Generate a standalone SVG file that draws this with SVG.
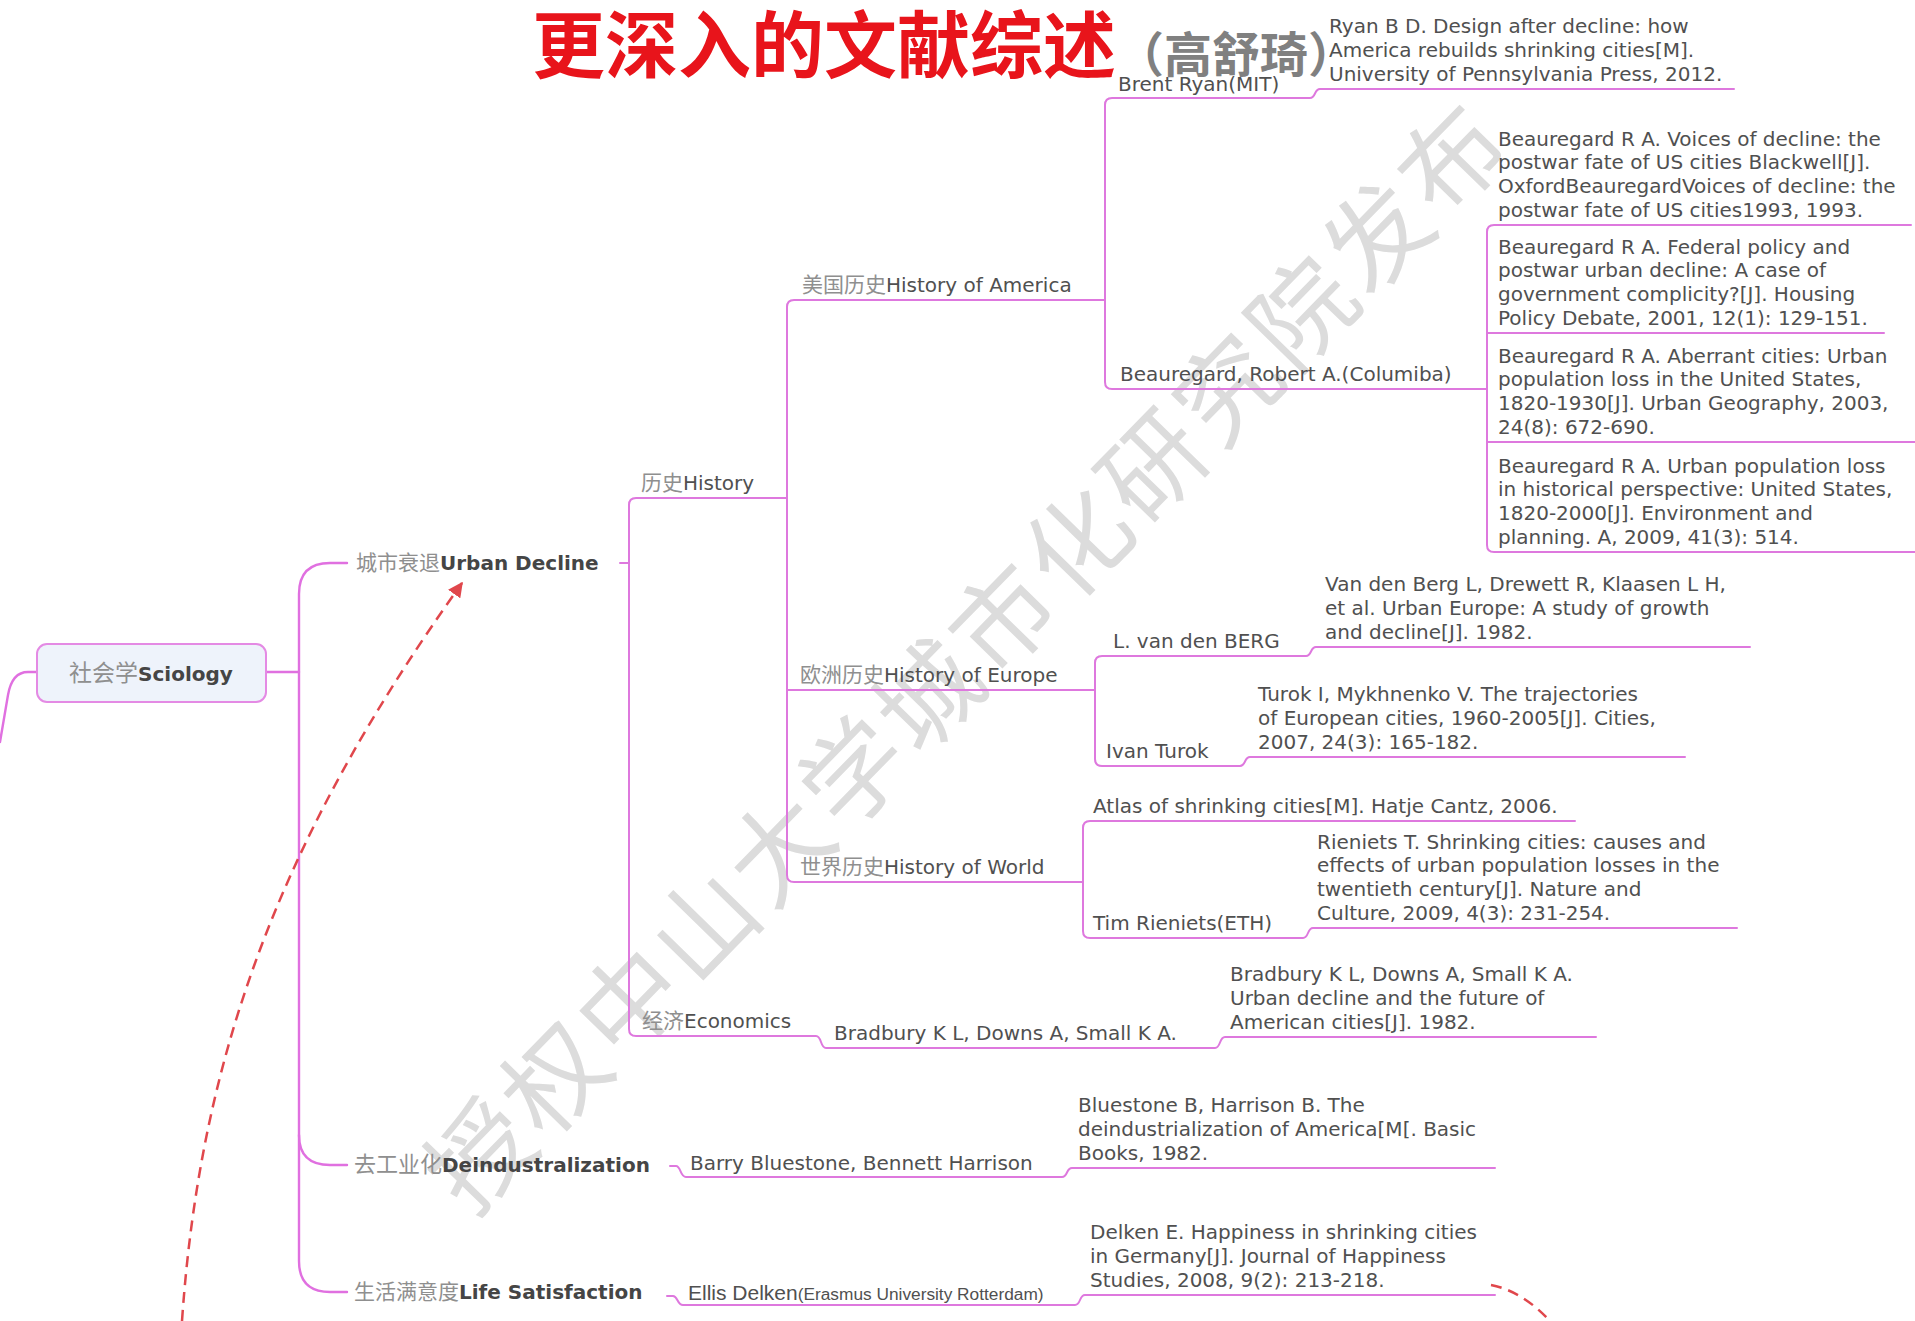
<svg xmlns="http://www.w3.org/2000/svg" width="1915" height="1321" viewBox="0 0 1915 1321">
<style>
  .t { font-family: "DejaVu Sans", "Noto Sans CJK SC", sans-serif; font-size: 20px; fill: #505050; }
  .cjk { font-family: "Noto Sans CJK SC", sans-serif; fill: #8f8f8f; font-weight: 400; }
  .topic { font-family: "DejaVu Sans", "Noto Sans CJK SC", sans-serif; font-size: 20px; font-weight: bold; fill: #454545; }
  .ln { fill: none; stroke: #de78de; stroke-width: 2; stroke-linecap: round; stroke-linejoin: round; }
  .trunk { fill: none; stroke: #e070e0; stroke-width: 2.4; stroke-linecap: round; }
  .red { fill: none; stroke: #e0474c; stroke-width: 2.5; stroke-dasharray: 11 7; }
</style>
<defs>
  <marker id="ah" viewBox="0 0 10 10" refX="9" refY="5" markerWidth="6" markerHeight="6" orient="auto" markerUnits="strokeWidth">
    <path d="M0,0 L10,5 L0,10 z" fill="#e0474c"/>
  </marker>
</defs>
<rect width="1915" height="1321" fill="#ffffff"/>

<g id="watermark">
  <text x="968" y="693" transform="rotate(-45.7 968 656)" text-anchor="middle" font-family="Noto Sans CJK SC, sans-serif" font-size="102" letter-spacing="5" fill="#dcdcdc">授权中山大学城市化研究院发布</text>
</g>

<g id="connectors">
  <path class="trunk" d="M37,672 H28 Q12,672 8,695 L0,742"/>
  <path class="trunk" d="M266,672 H299"/>
  <path class="trunk" d="M347,563 H330 Q299,563 299,594 V1261 Q299,1292 330,1292 H347"/>
  <path class="trunk" d="M299,1135 Q299,1165 330,1165 H347"/>
  <path class="ln" d="M620,563 H629"/>
  <path class="ln" d="M787,498 H636 Q629,498 629,505 V1029 Q629,1036 636,1036 H816 C822,1036 820,1048 826,1048 H1215 C1221,1048 1219,1037 1225,1037 H1596"/>
  <path class="ln" d="M1105,300 H794 Q787,300 787,307 V875 Q787,882 794,882 H1083"/>
  <path class="ln" d="M787,690 H1095"/>
  <path class="ln" d="M1487,389 H1112 Q1105,389 1105,382 V105 Q1105,98 1112,98 H1310 C1316,98 1314,89 1320,89 H1734"/>
  <path class="ln" d="M1911,225 H1494 Q1487,225 1487,232 V545 Q1487,552 1494,552 H1915"/>
  <path class="ln" d="M1487,333 H1884"/>
  <path class="ln" d="M1487,442 H1915"/>
  <path class="ln" d="M1750,647 H1316 C1310,647 1312,656 1306,656 H1102 Q1095,656 1095,663 V759 Q1095,766 1102,766 H1240 C1246,766 1244,757 1250,757 H1685"/>
  <path class="ln" d="M1575,821 H1090 Q1083,821 1083,828 V931 Q1083,938 1090,938 H1303 C1309,938 1307,928 1313,928 H1737"/>
  <path class="ln" d="M670,1166 H676 C681,1166 680,1177 686,1177 H1062 C1068,1177 1066,1168 1072,1168 H1495"/>
  <path class="ln" d="M667,1296 H673 C678,1296 677,1305 683,1305 H1075 C1081,1305 1079,1295 1085,1295 H1495"/>
  <path class="red" d="M182,1321 C200,1060 277,842 462,583" marker-end="url(#ah)"/>
  <path class="red" d="M1491,1285 Q1522,1291 1550,1321"/>
</g>

<g id="n-sociology">
  <rect x="37" y="644" width="229" height="58" rx="10" fill="#eef3fb" stroke="#e48ae4" stroke-width="2"/>
  <text x="151" y="681" text-anchor="middle" class="topic" font-size="22.5"><tspan class="cjk" font-size="23" fill="#7a7a7a">社会学</tspan>Sciology</text>
</g>

<g id="n-urban-decline">
  <text x="356" y="570" class="topic"><tspan class="cjk" font-size="21">城市衰退</tspan>Urban Decline</text>
</g>
<g id="n-deindustralization">
  <text x="354" y="1172" class="topic"><tspan class="cjk" font-size="22">去工业化</tspan>Deindustralization</text>
</g>
<g id="n-life-satisfaction">
  <text x="354" y="1299" class="topic"><tspan class="cjk" font-size="21">生活满意度</tspan>Life Satisfaction</text>
</g>

<g id="n-history"><text x="641" y="490" class="t"><tspan class="cjk" font-size="21">历史</tspan>History</text></g>
<g id="n-economics"><text x="642" y="1028" class="t"><tspan class="cjk" font-size="21">经济</tspan>Economics</text></g>
<g id="n-america"><text x="802" y="292" class="t"><tspan class="cjk" font-size="21">美国历史</tspan>History of America</text></g>
<g id="n-europe"><text x="800" y="682" class="t"><tspan class="cjk" font-size="21">欧洲历史</tspan>History of Europe</text></g>
<g id="n-world"><text x="800" y="874" class="t"><tspan class="cjk" font-size="21">世界历史</tspan>History of World</text></g>

<g id="n-brent-ryan"><text x="1118" y="91" class="t">Brent Ryan(MIT)</text></g>
<g id="n-ryan-ref"><text class="t"><tspan x="1329" y="33.4">Ryan B D. Design after decline: how</tspan><tspan x="1329" dy="23.8">America rebuilds shrinking cities[M].</tspan><tspan x="1329" dy="23.8">University of Pennsylvania Press, 2012.</tspan></text></g>

<g id="n-beauregard"><text x="1120" y="381" class="t">Beauregard, Robert A.(Columiba)</text></g>
<g id="n-beau-ref1"><text class="t"><tspan x="1498" y="145.6">Beauregard R A. Voices of decline: the</tspan><tspan x="1498" dy="23.8">postwar fate of US cities Blackwell[J].</tspan><tspan x="1498" dy="23.8">OxfordBeauregardVoices of decline: the</tspan><tspan x="1498" dy="23.8">postwar fate of US cities1993, 1993.</tspan></text></g>
<g id="n-beau-ref2"><text class="t"><tspan x="1498" y="253.6">Beauregard R A. Federal policy and</tspan><tspan x="1498" dy="23.8">postwar urban decline: A case of</tspan><tspan x="1498" dy="23.8">government complicity?[J]. Housing</tspan><tspan x="1498" dy="23.8">Policy Debate, 2001, 12(1): 129-151.</tspan></text></g>
<g id="n-beau-ref3"><text class="t"><tspan x="1498" y="362.6">Beauregard R A. Aberrant cities: Urban</tspan><tspan x="1498" dy="23.8">population loss in the United States,</tspan><tspan x="1498" dy="23.8">1820-1930[J]. Urban Geography, 2003,</tspan><tspan x="1498" dy="23.8">24(8): 672-690.</tspan></text></g>
<g id="n-beau-ref4"><text class="t"><tspan x="1498" y="472.6">Beauregard R A. Urban population loss</tspan><tspan x="1498" dy="23.8">in historical perspective: United States,</tspan><tspan x="1498" dy="23.8">1820-2000[J]. Environment and</tspan><tspan x="1498" dy="23.8">planning. A, 2009, 41(3): 514.</tspan></text></g>

<g id="n-vandenberg"><text x="1113" y="648" class="t">L. van den BERG</text></g>
<g id="n-vandenberg-ref"><text class="t"><tspan x="1325" y="591.4">Van den Berg L, Drewett R, Klaasen L H,</tspan><tspan x="1325" dy="23.8">et al. Urban Europe: A study of growth</tspan><tspan x="1325" dy="23.8">and decline[J]. 1982.</tspan></text></g>
<g id="n-turok"><text x="1106" y="758" class="t">Ivan Turok</text></g>
<g id="n-turok-ref"><text class="t"><tspan x="1258" y="701.4">Turok I, Mykhnenko V. The trajectories</tspan><tspan x="1258" dy="23.8">of European cities, 1960-2005[J]. Cities,</tspan><tspan x="1258" dy="23.8">2007, 24(3): 165-182.</tspan></text></g>

<g id="n-atlas"><text x="1093" y="813" class="t">Atlas of shrinking cities[M]. Hatje Cantz, 2006.</text></g>
<g id="n-rieniets"><text x="1093" y="930" class="t">Tim Rieniets(ETH)</text></g>
<g id="n-rieniets-ref"><text class="t"><tspan x="1317" y="848.6">Rieniets T. Shrinking cities: causes and</tspan><tspan x="1317" dy="23.8">effects of urban population losses in the</tspan><tspan x="1317" dy="23.8">twentieth century[J]. Nature and</tspan><tspan x="1317" dy="23.8">Culture, 2009, 4(3): 231-254.</tspan></text></g>

<g id="n-bradbury"><text x="834" y="1040" class="t">Bradbury K L, Downs A, Small K A.</text></g>
<g id="n-bradbury-ref"><text class="t"><tspan x="1230" y="981.4">Bradbury K L, Downs A, Small K A.</tspan><tspan x="1230" dy="23.8">Urban decline and the future of</tspan><tspan x="1230" dy="23.8">American cities[J]. 1982.</tspan></text></g>

<g id="n-bluestone"><text x="690" y="1170" class="t">Barry Bluestone, Bennett Harrison</text></g>
<g id="n-bluestone-ref"><text class="t"><tspan x="1078" y="1112.4">Bluestone B, Harrison B. The</tspan><tspan x="1078" dy="23.8">deindustrialization of America[M[. Basic</tspan><tspan x="1078" dy="23.8">Books, 1982.</tspan></text></g>

<g id="n-delken"><text x="688" y="1300" font-family="Liberation Sans, Arial, sans-serif" font-size="21" fill="#505050">Ellis Delken<tspan font-size="17.3">(Erasmus University Rotterdam)</tspan></text></g>
<g id="n-delken-ref"><text class="t"><tspan x="1090" y="1239.4">Delken E. Happiness in shrinking cities</tspan><tspan x="1090" dy="23.8">in Germany[J]. Journal of Happiness</tspan><tspan x="1090" dy="23.8">Studies, 2008, 9(2): 213-218.</tspan></text></g>

<g id="title">
  <text x="532" y="72" font-family="Noto Sans CJK SC, sans-serif" font-size="73" font-weight="bold" fill="#e8141b">更深入的文献综述<tspan font-size="48" fill="#808080">（高舒琦）</tspan></text>
</g>
</svg>
